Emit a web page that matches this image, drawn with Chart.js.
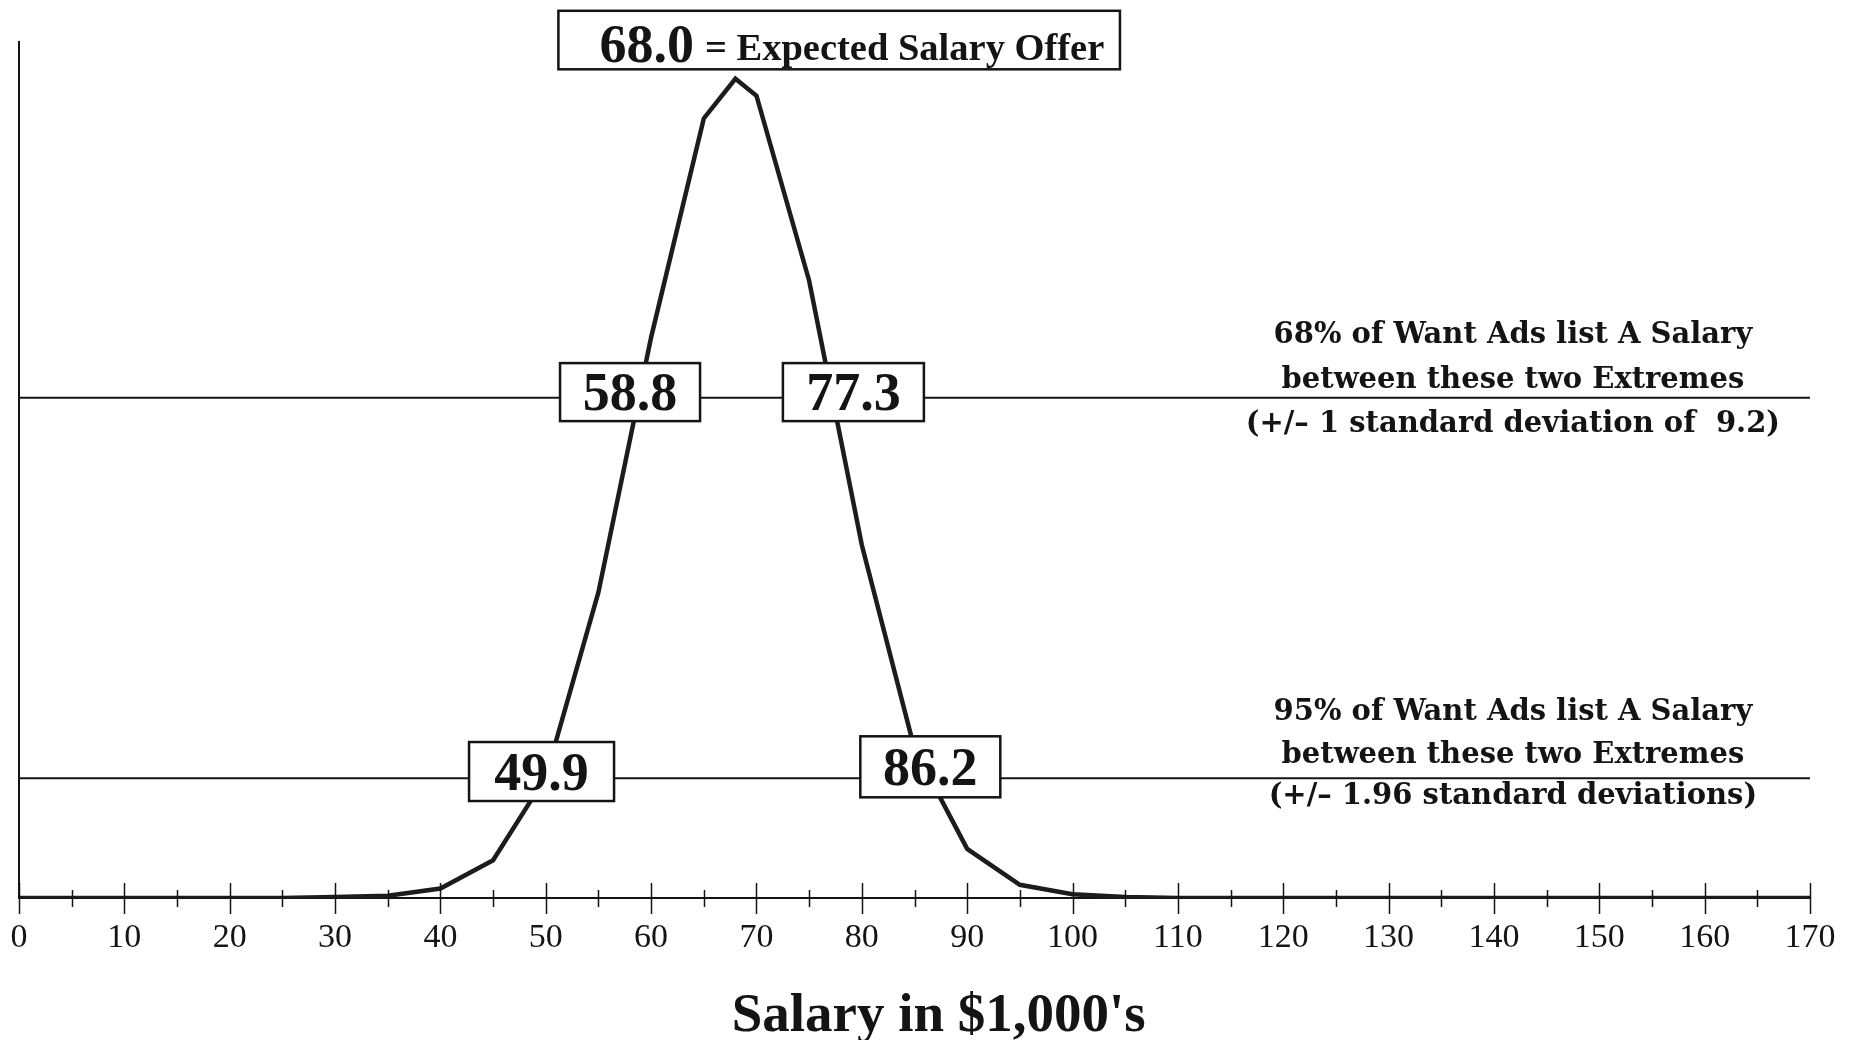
<!DOCTYPE html>
<html>
<head>
<meta charset="utf-8">
<title>Expected Salary Offer</title>
<script src="https://cdn.jsdelivr.net/npm/chart.js@4.4.1/dist/chart.umd.min.js"></script>
<style>
  html, body { margin: 0; padding: 0; background: #fff; }
  canvas { display: block; }
</style>
</head>
<body>
<canvas id="salaryChart" width="1858" height="1040"></canvas>
<script>
// --- data ---
const salaryK = [0, 5, 10, 15, 20, 25, 30, 35, 40, 45, 50, 55, 60, 65, 68, 70, 75, 80, 85, 90, 95,
                 100, 105, 110, 115, 120, 125, 130, 135, 140, 145, 150, 155, 160, 165, 170];
// share of want ads per $1,000 (%)
const adShare = [0, 0, 0, 0, 0, 0, 0.005, 0.012, 0.05, 0.2, 0.64, 1.62, 2.97, 4.13, 4.34, 4.25, 3.27,
                 1.87, 0.79, 0.26, 0.07, 0.02, 0.005, 0, 0, 0, 0, 0, 0, 0, 0, 0, 0, 0, 0, 0];

const meanLabel = '68.0';
const meanText = '= Expected Salary Offer';
const oneSdLevel = 2.65;   // height of the +/- 1 sd line
const twoSdLevel = 0.635;  // height of the +/- 1.96 sd line
const oneSdBounds = ['58.8', '77.3'];
const twoSdBounds = ['49.9', '86.2'];
const oneSdNote = ['68% of Want Ads list A Salary', 'between these two Extremes', '(+/\u2013 1 standard deviation of  9.2)'];
const twoSdNote = ['95% of Want Ads list A Salary', 'between these two Extremes', '(+/\u2013 1.96 standard deviations)'];
const xTitle = "Salary in $1,000's";

// --- where the annotations sit (salary units / chart units) ---
const ink = '#141414';
const boxLayout = [
  { text: oneSdBounds[0], cx: 58.0, cy: 2.68, w: 140, h: 58 },
  { text: oneSdBounds[1], cx: 79.2, cy: 2.68, w: 141, h: 58 },
  { text: twoSdBounds[0], cx: 49.6, cy: 0.67, w: 145, h: 59 },
  { text: twoSdBounds[1], cx: 86.5, cy: 0.695, w: 140, h: 61 }
];
const meanBox = { left: 51.2, right: 104.5, top: 4.70, bottom: 4.39 };
const noteLayout = [
  { lines: oneSdNote, cx: 141.8, ys: [2.98, 2.74, 2.51] },
  { lines: twoSdNote, cx: 141.8, ys: [0.985, 0.757, 0.54] }
];
const titleAt = { cx: 87.3, cy: -0.63 };

const annotate = {
  id: 'annotate',
  beforeDraw(chart) {
    const ctx = chart.ctx;
    ctx.save();
    ctx.fillStyle = '#fff';
    ctx.fillRect(0, 0, chart.width, chart.height);
    ctx.restore();
  },
  afterDraw(chart) {
    const { ctx, scales: { x, y } } = chart;
    const y0 = y.getPixelForValue(0);
    const x0 = x.getPixelForValue(0);
    ctx.save();
    ctx.strokeStyle = ink;
    ctx.fillStyle = ink;

    // left axis line
    ctx.lineWidth = 2;
    ctx.beginPath();
    ctx.moveTo(x0, y.getPixelForValue(y.max));
    ctx.lineTo(x0, y0);
    ctx.stroke();

    // tick marks cross the axis
    ctx.lineWidth = 1.5;
    x.ticks.forEach(t => {
      const px = Math.round(x.getPixelForValue(t.value)) + 0.5;
      const major = t.value % 10 === 0;
      ctx.beginPath();
      ctx.moveTo(px, y0 - (major ? 15 : 8));
      ctx.lineTo(px, y0 + (major ? 16 : 9));
      ctx.stroke();
    });

    // value boxes
    ctx.textAlign = 'center';
    ctx.textBaseline = 'alphabetic';
    boxLayout.forEach(b => {
      const cx = x.getPixelForValue(b.cx);
      const cy = y.getPixelForValue(b.cy);
      ctx.fillStyle = '#fff';
      ctx.fillRect(cx - b.w / 2, cy - b.h / 2, b.w, b.h);
      ctx.lineWidth = 2.5;
      ctx.strokeRect(cx - b.w / 2, cy - b.h / 2, b.w, b.h);
      ctx.fillStyle = ink;
      ctx.font = 'bold 54px "Liberation Serif"';
      ctx.fillText(b.text, cx, cy + 18);
    });

    // expected salary box
    const l = x.getPixelForValue(meanBox.left), r = x.getPixelForValue(meanBox.right);
    const t = y.getPixelForValue(meanBox.top), bt = y.getPixelForValue(meanBox.bottom);
    ctx.fillStyle = '#fff';
    ctx.fillRect(l, t, r - l, bt - t);
    ctx.lineWidth = 2.5;
    ctx.strokeRect(l, t, r - l, bt - t);
    ctx.fillStyle = ink;
    ctx.textAlign = 'left';
    ctx.font = 'bold 54px "Liberation Serif"';
    ctx.fillText(meanLabel, l + 41, bt - 7);
    const w68 = ctx.measureText(meanLabel).width;
    ctx.font = 'bold 38.5px "Liberation Serif"';
    ctx.fillText(meanText, l + 41 + w68 + 11, bt - 9);

    // notes on the right
    ctx.textAlign = 'center';
    ctx.textBaseline = 'middle';
    ctx.font = 'bold 29px "DejaVu Serif"';
    noteLayout.forEach(n => {
      n.lines.forEach((line, i) => ctx.fillText(line, x.getPixelForValue(n.cx), y.getPixelForValue(n.ys[i])));
    });

    // axis title
    ctx.font = 'bold 55px "Liberation Serif"';
    ctx.fillText(xTitle, x.getPixelForValue(titleAt.cx), y.getPixelForValue(titleAt.cy));
    ctx.restore();
  }
};

const ctx = document.getElementById('salaryChart').getContext('2d');
const salaryChart = new Chart(ctx, {
  type: 'line',
  data: {
    datasets: [
      {
        label: 'Want ads',
        data: salaryK.map((s, i) => ({ x: s, y: adShare[i] })),
        borderColor: '#1c1c1c',
        borderWidth: 4.5,
        pointRadius: 0,
        tension: 0,
        borderJoinStyle: 'miter'
      },
      {
        label: '68%',
        data: [{ x: 0, y: oneSdLevel }, { x: 170, y: oneSdLevel }],
        borderColor: ink, borderWidth: 2, pointRadius: 0
      },
      {
        label: '95%',
        data: [{ x: 0, y: twoSdLevel }, { x: 170, y: twoSdLevel }],
        borderColor: ink, borderWidth: 2, pointRadius: 0
      }
    ]
  },
  options: {
    responsive: false,
    animation: false,
    devicePixelRatio: 1,
    layout: { padding: { top: 41, left: 19, right: 48, bottom: 0 } },
    plugins: { legend: { display: false }, tooltip: { enabled: false } },
    scales: {
      x: {
        type: 'linear', min: 0, max: 170,
        afterFit: scale => { scale.height = 142; },
        ticks: {
          stepSize: 5, autoSkip: false, maxRotation: 0, padding: 10, color: ink,
          font: { family: '"Liberation Serif"', size: 34 },
          callback: v => (v % 10 === 0 ? v : '')
        },
        grid: { drawOnChartArea: false, color: 'rgba(0,0,0,0)', tickLength: 10 },
        border: { display: true, color: ink, width: 2 }
      },
      y: { display: false, min: 0, max: 4.54 }
    }
  },
  plugins: [annotate]
});
</script>
</body>
</html>
